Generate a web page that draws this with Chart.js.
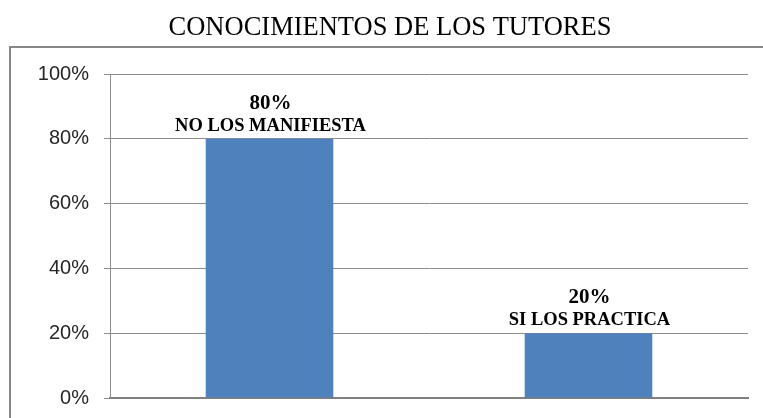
<!DOCTYPE html>
<html>
<head>
<meta charset="utf-8">
<script src="https://cdn.jsdelivr.net/npm/chart.js@4.4.1/dist/chart.umd.min.js"></script>
<style>
html,body{margin:0;padding:0;background:#fff;}
#wrap{width:763px;height:418px;position:relative;}
</style>
</head>
<body>
<div id="wrap"><canvas id="c" width="763" height="418"></canvas></div>
<script>
const chartTitle = "CONOCIMIENTOS DE LOS TUTORES";
const categories = ["NO LOS MANIFIESTA", "SI LOS PRACTICA"];
const values = [80, 20];
const tickValues = [0, 20, 40, 60, 80, 100];

const frame = {
  id: 'frame',
  beforeDraw(chart) {
    const ctx = chart.ctx;
    ctx.save();
    ctx.strokeStyle = '#878787';
    ctx.lineWidth = 2;
    ctx.beginPath();
    ctx.moveTo(10, 430);
    ctx.lineTo(10, 47);
    ctx.lineTo(770, 47);
    ctx.stroke();
    ctx.fillStyle = '#000';
    ctx.textAlign = 'center';
    ctx.textBaseline = 'alphabetic';
    ctx.font = '26.5px "Liberation Serif"';
    ctx.fillText(chartTitle, 390, 35);
    ctx.restore();
  }
};

const barLabels = {
  id: 'barLabels',
  afterDatasetsDraw(chart) {
    const ctx = chart.ctx;
    const meta = chart.getDatasetMeta(0);
    ctx.save();
    ctx.fillStyle = '#000';
    ctx.textAlign = 'center';
    ctx.textBaseline = 'alphabetic';
    meta.data.forEach((bar, i) => {
      ctx.font = 'bold 21px "Liberation Serif"';
      ctx.fillText(values[i] + '%', bar.x + 1, bar.y - 30);
      ctx.font = 'bold 18.5px "Liberation Serif"';
      ctx.fillText(categories[i], bar.x + 1, bar.y - 8);
    });
    ctx.restore();
  }
};

new Chart(document.getElementById('c'), {
  type: 'bar',
  data: {
    labels: categories,
    datasets: [{
      data: values,
      backgroundColor: '#4F81BD',
      borderWidth: 0,
      categoryPercentage: 1.0,
      barPercentage: 0.4
    }]
  },
  options: {
    responsive: false,
    animation: false,
    devicePixelRatio: 1,
    layout: { padding: { left: 0, right: 15, top: 74, bottom: 20 } },
    plugins: {
      legend: { display: false },
      tooltip: { enabled: false },
      title: { display: false }
    },
    scales: {
      x: {
        ticks: { display: false },
        grid: { display: false },
        border: { display: true, color: '#7f7f7f', width: 2 },
        afterFit(scale) { scale.height = 0; scale.paddingLeft = 0; scale.paddingRight = 0; }
      },
      y: {
        min: 0,
        max: 100,
        afterBuildTicks(scale) { scale.ticks = tickValues.map(v => ({ value: v })); },
        ticks: {
          padding: 15,
          color: '#262626',
          font: { family: '"Liberation Sans"', size: 20 },
          callback: v => v + '%'
        },
        grid: { color: '#8c8c8c', lineWidth: 1, tickLength: 6, drawTicks: true },
        border: { display: true, color: '#8c8c8c', width: 1 },
        afterFit(scale) { scale.width = 110; scale.paddingTop = 0; scale.paddingBottom = 0; }
      }
    }
  },
  plugins: [frame, barLabels]
});
</script>
</body>
</html>
